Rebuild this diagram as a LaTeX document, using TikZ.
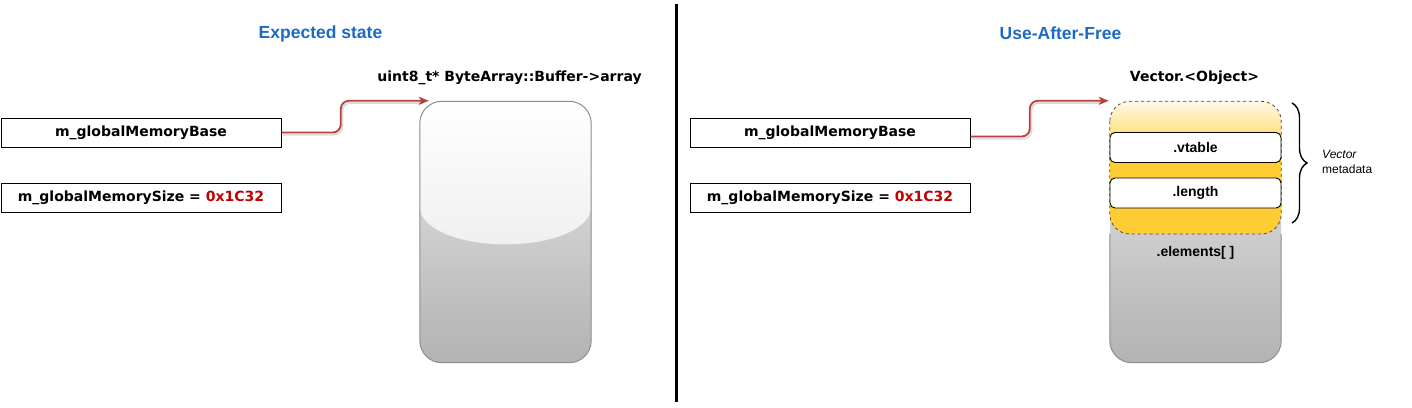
\documentclass[tikz,border=0pt]{standalone}
\usepackage{fontspec}
\newfontfamily\verdfont{DejaVu Sans}
\newfontfamily\helvfont{Liberation Sans}
\usetikzlibrary{arrows.meta, decorations.pathreplacing}

\definecolor{titleblue}{HTML}{1C6AC2}
\definecolor{ptrred}{HTML}{B5423F}
\definecolor{hexred}{HTML}{C00000}
\definecolor{memgold}{HTML}{FFCC33}
\definecolor{memline}{HTML}{8C8C8C}

\begin{document}
\begin{tikzpicture}
[x=1pt, y=-1pt,
 title/.style={font=\helvfont\bfseries\fontsize{17.5}{20}\selectfont, text=titleblue},
 var/.style={draw, line width=1pt, minimum width=280pt, minimum height=29pt, inner sep=0pt,
   font=\verdfont\bfseries\fontsize{14}{16}\selectfont},
 tag/.style={font=\verdfont\bfseries\fontsize{14}{16}\selectfont},
 memblk/.style={rounded corners=22pt, minimum width=171pt, minimum height=261pt, inner sep=0pt,
   top color=black!9, bottom color=black!30},
 field/.style={draw, fill=white, line width=0.9pt, rounded corners=5pt, minimum width=171pt,
   minimum height=30pt, inner sep=0pt, font=\helvfont\bfseries\fontsize{14}{16}\selectfont},
 ptr/.style={draw=ptrred, line width=1.8pt, rounded corners=8pt,
   -{Stealth[length=10pt, width=8pt, inset=2.5pt]}},
 ptrshadow/.style={draw=ptrred!25!black!15, line width=2pt, rounded corners=8pt}
]
\useasboundingbox (0,0) rectangle (1412,407);

% titles and divider
\node[title] (lefttitle) at (320.5,33.5) {Expected state};
\node[title] (righttitle) at (1060.5,33.5) {Use-After-Free};
\draw[line width=3pt] (676,4) -- (676,402);

% left side
\node[var] (base1) at (141,132.5) {m\_globalMemoryBase};
\node[var] (size1) at (141,197.5) {m\_globalMemorySize = \textcolor{hexred}{0x1C32}};
\node[memblk] (buf) at (505.5,232) {};
\begin{scope}
\clip[rounded corners=22pt] (buf.north west) rectangle (buf.south east);
\shade[top color=white, bottom color=black!6] (buf.north west) -- ([yshift=-105pt]buf.north west)
  .. controls +(0,22) and +(-48,0) .. ([yshift=-143pt]buf.north)
  .. controls +(48,0) and +(0,22) .. ([yshift=-105pt]buf.north east) -- (buf.north east) -- cycle;
\end{scope}
\draw[memline, line width=1pt, rounded corners=22pt] (buf.north west) rectangle (buf.south east);
\node[tag] (bufname) at (509.5,78) {uint8\_t* ByteArray::Buffer->array};

\coordinate (bufin) at ([xshift=9pt,yshift=0.5pt]buf.north west);
\draw[ptrshadow, transform canvas={xshift=1.5pt, yshift=-2pt}] (base1.east) -| ([xshift=-88pt]bufin) -- ([xshift=-8pt]bufin);
\draw[ptr] (base1.east) -| ([xshift=-88pt]bufin) -- (bufin);

% right side
\node[var] (base2) at (830,132.5) {m\_globalMemoryBase};
\node[var] (size2) at (830,197.5) {m\_globalMemorySize = \textcolor{hexred}{0x1C32}};
\node[memblk] (vec) at (1195.5,232) {};
\coordinate (metabot) at (1195.5,234);
\begin{scope}
\clip[rounded corners=22pt] (vec.north west) rectangle (vec.south east);
\fill[memgold, rounded corners=20pt] (vec.north west) rectangle (vec.east |- metabot);
\shade[top color=memgold!12, bottom color=memgold] (vec.north west) rectangle ([yshift=-58pt]vec.north east);
\end{scope}
\draw[memline, line width=1pt, rounded corners=22pt] (vec.west |- metabot) -- (vec.south west) -- (vec.south east) -- (vec.east |- metabot);
\draw[black!70, dashed, line width=0.8pt, rounded corners=20pt] (vec.north west) rectangle (vec.east |- metabot);
\node[field] (vtable) at (1195.5,147.5) {.vtable};
\node[field] (length) at (1195.5,193) {.length};
\node[font=\helvfont\bfseries\fontsize{14}{16}\selectfont] (elems) at (1195.5,253) {.elements[ ]};
\node[tag] (vecname) at (1194.5,78) {Vector.<Object>};

\coordinate (vecin) at ([xshift=-1pt,yshift=0.5pt]vec.north west);
\draw[ptrshadow, transform canvas={xshift=1.5pt, yshift=-2pt}] ([yshift=-4pt]base2.east) -| ([xshift=-79pt]vecin) -- ([xshift=-8pt]vecin);
\draw[ptr] ([yshift=-4pt]base2.east) -| ([xshift=-79pt]vecin) -- (vecin);

% metadata brace
\draw[decorate, decoration={brace, amplitude=15pt}, line width=1.4pt] (1292,103) -- (1292,223);
\node[anchor=west, align=left, inner sep=0pt, font=\helvfont\fontsize{12}{15.5}\selectfont]
  (metalbl) at (1322,162) {\textit{Vector}\\metadata};

\end{tikzpicture}
\end{document}
